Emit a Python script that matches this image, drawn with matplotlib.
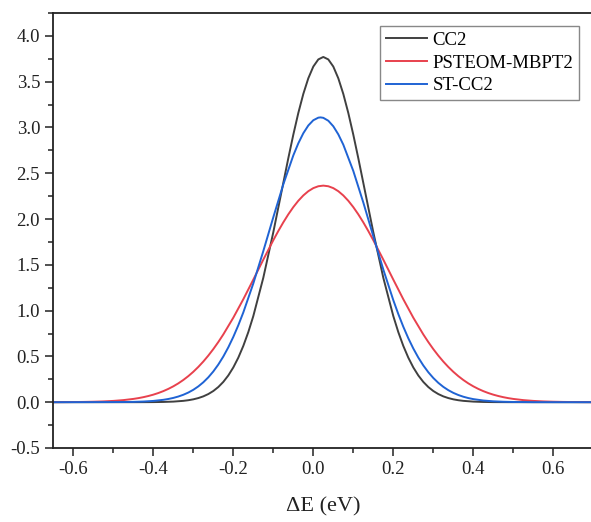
import matplotlib
matplotlib.use("Agg")
import matplotlib.pyplot as plt
from matplotlib.ticker import MultipleLocator

# CC2 curve
cc2_x = [-0.65, -0.45, -0.425, -0.4, -0.375, -0.35, -0.325, -0.3, -0.275, -0.25,
         -0.225, -0.2, -0.175, -0.15, -0.125, -0.1, -0.075, -0.0625, -0.05, -0.0375,
         -0.025, -0.0125, 0.0, 0.0125, 0.025, 0.0375, 0.05, 0.0625, 0.075, 0.0875,
         0.1, 0.1125, 0.125, 0.15, 0.175, 0.2, 0.225, 0.25, 0.275, 0.3,
         0.325, 0.35, 0.375, 0.4, 0.425, 0.45, 0.5, 0.7,
         -0.3125, -0.2875, -0.2625, -0.2375, -0.2125, -0.1875, -0.1625,
         0.3625, 0.3375, 0.3125, 0.2875, 0.2625, 0.2375, 0.2125]
cc2_y = [0.0, 0.0001, 0.0004, 0.0010, 0.0027, 0.0064, 0.0146, 0.0313, 0.0636, 0.1221,
         0.2215, 0.3795, 0.6145, 0.9403, 1.359, 1.856, 2.395, 2.664, 2.921, 3.158,
         3.366, 3.537, 3.665, 3.743, 3.77, 3.743, 3.665, 3.537, 3.366, 3.158,
         2.921, 2.664, 2.395, 1.856, 1.359, 0.9403, 0.6145, 0.3795, 0.2215, 0.1221,
         0.0636, 0.0313, 0.0146, 0.0064, 0.0027, 0.0010, 0.0001, 0.0,
         0.0215, 0.0450, 0.0888, 0.1656, 0.2920, 0.4863, 0.7654,
         0.0215, 0.0450, 0.0888, 0.1656, 0.2920, 0.4863, 0.7654]

# PSTEOM-MBPT2 curve
ps_x = [-0.65, -0.625, -0.6, -0.575, -0.55, -0.525, -0.5, -0.475, -0.45, -0.425,
        -0.4, -0.375, -0.35, -0.325, -0.3, -0.275, -0.25, -0.225, -0.2, -0.175,
        -0.15, -0.125, -0.1, -0.075, -0.05, -0.025, 0.0, 0.025, 0.05, 0.075,
        0.1, 0.125, 0.15, 0.175, 0.2, 0.225, 0.25, 0.275, 0.3, 0.325,
        0.35, 0.375, 0.4, 0.425, 0.45, 0.475, 0.5, 0.525, 0.55, 0.575,
        0.6, 0.625, 0.65, 0.675, 0.7,
        -0.2375, -0.2625, -0.2875, -0.3125, -0.3375, -0.3625, -0.3875, -0.4125, -0.4375,
        0.2875, 0.3125, 0.3375, 0.3625, 0.3875, 0.4125, 0.4375, 0.4625, 0.4875,
        -0.0875, -0.0625, -0.0375, -0.0125, 0.0125, 0.0375, 0.0625, 0.0875, 0.1125, 0.1375]
ps_y = [0.0005, 0.0009, 0.0017, 0.0029, 0.0051, 0.0085, 0.0141, 0.0227, 0.0357, 0.0548,
        0.0823, 0.1208, 0.1732, 0.2426, 0.3320, 0.4438, 0.5797, 0.7400, 0.9228, 1.1243,
        1.3384, 1.5566, 1.7689, 1.9638, 2.1302, 2.2576, 2.3377, 2.365, 2.3377, 2.2576,
        2.1302, 1.9638, 1.7689, 1.5566, 1.3384, 1.1243, 0.9228, 0.7400, 0.5797, 0.4438,
        0.3320, 0.2426, 0.1732, 0.1208, 0.0823, 0.0548, 0.0357, 0.0227, 0.0141, 0.0085,
        0.0051, 0.0029, 0.0017, 0.0009, 0.0005,
        0.6569, 0.5088, 0.3850, 0.2846, 0.2055, 0.1451, 0.1000, 0.0674, 0.0443,
        0.6569, 0.5088, 0.3850, 0.2846, 0.2055, 0.1451, 0.1000, 0.0674, 0.0443,
        1.8692, 2.0513, 2.1994, 2.3040, 2.3581, 2.3581, 2.3040, 2.1994, 2.0513, 1.8692]

# ST-CC2 curve
st_x = [-0.65, -0.475, -0.45, -0.425, -0.4, -0.375, -0.35, -0.325, -0.3, -0.275,
        -0.25, -0.225, -0.2, -0.175, -0.15, -0.125, -0.1, -0.075, -0.05, -0.0375,
        -0.025, -0.0125, 0.0, 0.0125, 0.018, 0.025, 0.0375, 0.05, 0.0625, 0.075,
        0.1, 0.125, 0.15, 0.175, 0.2, 0.225, 0.25, 0.275, 0.3, 0.325,
        0.35, 0.375, 0.4, 0.425, 0.45, 0.475, 0.5, 0.55, 0.7,
        -0.3625, -0.3375, -0.3125, -0.2875, -0.2625, -0.2375, -0.2125, -0.1875,
        0.2125, 0.2375, 0.2625, 0.2875, 0.3125, 0.3375, 0.3625, 0.3875]
st_y = [0.0, 0.0017, 0.0035, 0.0071, 0.0138, 0.0259, 0.0467, 0.0811, 0.1353, 0.2173,
        0.3355, 0.4985, 0.7128, 0.9801, 1.2965, 1.650, 2.0197, 2.3785, 2.6947, 2.8268,
        2.9368, 3.0216, 3.0789, 3.107, 3.11, 3.1053, 3.0736, 3.0128, 2.9248, 2.812,
        2.5249, 2.1808, 1.8121, 1.4485, 1.1138, 0.824, 0.5863, 0.4014, 0.2644, 0.1675,
        0.1020, 0.0598, 0.0337, 0.0183, 0.0096, 0.0048, 0.0023, 0.0004, 0.0,
        0.0350, 0.0618, 0.1052, 0.1723, 0.2713, 0.4110, 0.5991, 0.8399,
        0.9627, 0.6984, 0.4874, 0.3273, 0.2114, 0.1313, 0.0785, 0.0451]


def ordered(xs, ys):
    pts = sorted(zip(xs, ys))
    return [p[0] for p in pts], [p[1] for p in pts]


plt.rcParams["font.family"] = ["Liberation Serif", "DejaVu Serif"]

fig = plt.figure(figsize=(5.91, 5.22), dpi=100)
ax = fig.add_axes([0.0902, 0.1418, 0.9137, 0.8333])

ax.plot(*ordered(cc2_x, cc2_y), color="#404040", lw=1.4, label="CC2")
ax.plot(*ordered(ps_x, ps_y), color="#e8414d", lw=1.4, label="PSTEOM-MBPT2")
ax.plot(*ordered(st_x, st_y), color="#1f63d4", lw=1.4, label="ST-CC2")

ax.set_xlim(-0.65, 0.7)
ax.set_ylim(-0.5, 4.25)
ax.xaxis.set_major_locator(MultipleLocator(0.2))
ax.xaxis.set_minor_locator(MultipleLocator(0.1))
ax.yaxis.set_major_locator(MultipleLocator(0.5))
ax.yaxis.set_minor_locator(MultipleLocator(0.25))
ax.xaxis.set_major_formatter(plt.FuncFormatter(lambda v, p: f"{v:.1f}"))
ax.yaxis.set_major_formatter(plt.FuncFormatter(lambda v, p: f"{v:.1f}"))

ax.tick_params(which="major", direction="out", length=5.5, width=1.1,
               labelsize=13.5, colors="#222222", pad=4)
ax.tick_params(which="minor", direction="out", length=3.5, width=1.1, colors="#222222")
ax.tick_params(axis="x", which="both", top=False)
ax.tick_params(axis="y", which="both", right=False)
for s in ax.spines.values():
    s.set_linewidth(1.3)
    s.set_color("#222222")

ax.set_xlabel("ΔE (eV)", fontsize=16, labelpad=14, color="#222222")

leg = ax.legend(loc="upper right", bbox_to_anchor=(0.9735, 0.970), borderaxespad=0,
                fontsize=13.5, frameon=True, fancybox=False, framealpha=1,
                edgecolor="#888888", handlelength=2.2, handletextpad=0.3,
                labelspacing=0.3, borderpad=0.3)
leg.get_frame().set_linewidth(1.0)

fig.savefig("out.png", dpi=100)
